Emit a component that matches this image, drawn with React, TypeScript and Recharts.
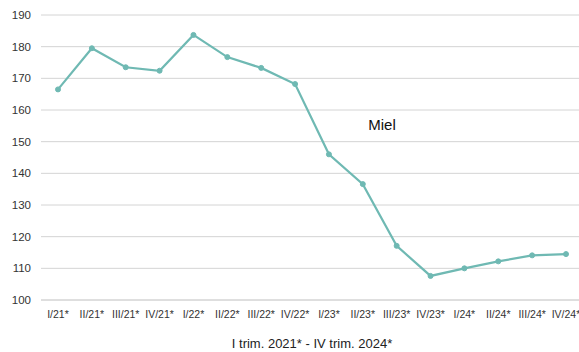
import React from "react";
import { LineChart, Line, XAxis, YAxis, CartesianGrid, Label, Customized } from "recharts";

const categories = ["I/21*", "II/21*", "III/21*", "IV/21*", "I/22*", "II/22*", "III/22*", "IV/22*", "I/23*", "II/23*", "III/23*", "IV/23*", "I/24*", "II/24*", "III/24*", "IV/24*"];
const mielValues = [166.5, 179.5, 173.5, 172.4, 183.7, 176.7, 173.3, 168.2, 146.0, 136.6, 117.1, 107.6, 110.0, 112.2, 114.1, 114.5];
const yTicks = [100, 110, 120, 130, 140, 150, 160, 170, 180, 190];
const seriesName = "Miel";
const axisTitle = "I trim. 2021* - IV trim. 2024*";

const data = categories.map((c, i) => ({ cat: c, miel: mielValues[i] }));

const FONT = "'Liberation Sans', Arial, sans-serif";
const COLOR = "#6fb9b3";

export default function App() {
  return (
    <div style={{ position: "fixed", left: 0, top: 0, width: 579, height: 352, overflow: "hidden", background: "#fff" }}>
      <LineChart width={583} height={352} data={data} margin={{ top: 15, right: 0, bottom: 0, left: 0 }}>
        <CartesianGrid vertical={false} stroke="#d4d4d4" />
        <XAxis
          dataKey="cat"
          interval={0}
          height={52}
          padding={{ left: 17, right: 17 }}
          tickLine={false}
          axisLine={{ stroke: "#d4d4d4" }}
          tick={{ fontSize: 10.5, fill: "#333", fontFamily: FONT }}
          tickMargin={5}
        >
          <Label value={axisTitle} position="insideBottom" offset={4} style={{ fontSize: 13, fill: "#222", fontFamily: FONT }} />
        </XAxis>
        <YAxis
          width={41}
          domain={[100, 190]}
          ticks={yTicks}
          tickLine={false}
          axisLine={false}
          tick={{ fontSize: 11.5, fill: "#333", fontFamily: FONT }}
          tickMargin={4}
        />
        <Line
          type="linear"
          dataKey="miel"
          stroke={COLOR}
          strokeWidth={2.2}
          dot={{ r: 2.5, fill: COLOR, stroke: COLOR, strokeWidth: 1 }}
          isAnimationActive={false}
        />
        <Customized
          component={() => (
            <text x={382} y={130} textAnchor="middle" style={{ fontSize: 15, fill: "#111", fontFamily: FONT }}>
              {seriesName}
            </text>
          )}
        />
      </LineChart>
    </div>
  );
}
